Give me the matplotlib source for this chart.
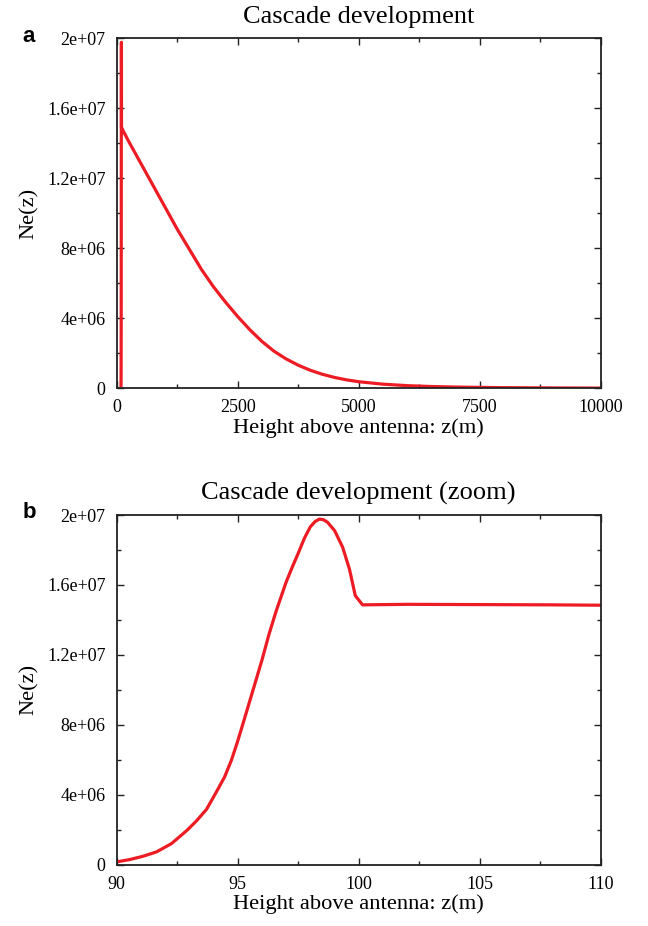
import numpy as np
from matplotlib import pyplot as plt
from matplotlib.ticker import MultipleLocator, FixedLocator

plt.rcParams['font.family'] = ['Liberation Serif', 'DejaVu Serif']

# ---------------- data ----------------
# close-up of the shower maximum (m, electrons)
z_near = [90, 90.55, 91.1, 91.65, 92.27, 92.91, 93.3, 93.71, 94.12, 94.46,
          94.74, 94.99, 95.22, 95.63, 96.0, 96.3, 96.59, 97.0, 97.25, 97.49,
          97.76, 98.0, 98.2, 98.38, 98.55, 98.72, 99.01, 99.34, 99.62, 99.86,
          100.16, 102, 104, 106, 108, 110]
ne_near = [1.5e5, 2.86e5, 4.76e5, 7.24e5, 1.2e6, 1.96e6, 2.5e6, 3.15e6,
           4.15e6, 5.01e6, 5.96e6, 7.01e6, 8.06e6, 9.96e6, 1.168e7, 1.32e7,
           1.45e7, 1.615e7, 1.70e7, 1.777e7, 1.868e7, 1.932e7, 1.963e7,
           1.977e7, 1.973e7, 1.958e7, 1.91e7, 1.815e7, 1.69e7, 1.539e7,
           1.486e7, 1.489e7, 1.488e7, 1.487e7, 1.486e7, 1.484e7]
# decay after the maximum
z_far = [250, 500, 750, 1000, 1250, 1500, 1750, 2000, 2250, 2500, 2750, 3000,
         3250, 3500, 3750, 4000, 4250, 4500, 4750, 5000, 5500, 6000, 6500,
         7000, 7500, 8000, 9000, 10000]
ne_far = [1.41e7, 1.285e7, 1.16e7, 1.035e7, 9.1e6, 7.95e6, 6.8e6, 5.8e6,
          4.92e6, 4.1e6, 3.35e6, 2.68e6, 2.12e6, 1.68e6, 1.32e6, 1.03e6,
          8.0e5, 6.2e5, 4.8e5, 3.75e5, 2.35e5, 1.5e5, 1.0e5, 7e4, 5e4, 3.5e4,
          2e4, 1e4]

z = np.array(z_near + z_far)
ne = np.array(ne_near + ne_far)

yticks = [0, 4e6, 8e6, 1.2e7, 1.6e7, 2e7]
ytick_labels = ['0', '4e+06', '8e+06', '1.2e+07', '1.6e+07', '2e+07']
xticks_a = [0, 2500, 5000, 7500, 10000]
xticks_b = [90, 95, 100, 105, 110]

red = '#ed1c24'

fig = plt.figure(figsize=(6.48, 9.26), dpi=100)
ax1 = fig.add_axes([0.180, 0.5807, 0.747, 0.378])
ax2 = fig.add_axes([0.180, 0.0664, 0.747, 0.3774])


def style(ax, xticks, xminor, title):
    ax.plot(z, ne, color=red, lw=2.3, solid_joinstyle='round')
    ax.set_xlim(xticks[0], xticks[-1])
    ax.set_ylim(0, 2e7)
    ax.xaxis.set_major_locator(FixedLocator(xticks))
    ax.set_xticklabels([str(t) for t in xticks])
    ax.xaxis.set_minor_locator(MultipleLocator(xminor))
    ax.yaxis.set_major_locator(FixedLocator(yticks))
    ax.set_yticklabels(ytick_labels)
    ax.yaxis.set_minor_locator(MultipleLocator(2e6))
    ax.tick_params(which='both', direction='in', top=True, right=True,
                   labelsize=13, color='#222222', width=1.0)
    ax.tick_params(which='major', length=5, pad=8)
    ax.tick_params(which='minor', length=3)
    for s in ax.spines.values():
        s.set_linewidth(1.3)
        s.set_color('#222222')
    ax.set_title(title, fontsize=19, pad=11)
    ax.set_xlabel('Height above antenna: z(m)', fontsize=16.2, labelpad=1)
    ax.set_ylabel('Ne(z)', fontsize=16.2, labelpad=6)


style(ax1, xticks_a, 1250, 'Cascade development')
style(ax2, xticks_b, 2.5, 'Cascade development (zoom)')

fig.text(29 / 648, 1 - 37 / 926, 'a', family='Liberation Sans', weight='bold',
         fontsize=16, ha='center', va='center')
fig.text(29 / 648, 1 - 513 / 926, 'b', family='Liberation Sans', weight='bold',
         fontsize=16, ha='center', va='center')

plt.savefig('out.png', dpi=100)
